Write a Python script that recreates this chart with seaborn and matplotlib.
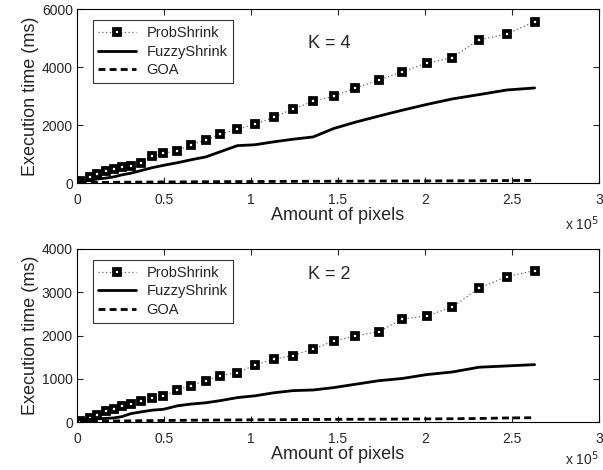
import matplotlib
matplotlib.use("Agg")
import matplotlib.pyplot as plt
import seaborn as sns
import pandas as pd
from matplotlib.ticker import FuncFormatter

# Amount of pixels per test image (same for both K settings)
pixels = [1600, 7300, 11700, 16500, 21000, 25700, 31000, 36800, 43300, 49700,
          57700, 65400, 74000, 82400, 92200, 102200, 113000, 124000, 135700, 147500,
          160000, 173500, 186800, 200900, 215600, 231000, 247000, 263000]

# K = 4
prob_k4 = [55, 195, 300, 400, 470, 540, 590, 700, 920, 1020,
           1120, 1320, 1480, 1680, 1860, 2030, 2270, 2550, 2820, 2990,
           3280, 3550, 3840, 4130, 4330, 4940, 5140, 5570]
fuzzy_k4 = [60, 100, 140, 170, 210, 280, 340, 430, 530, 610,
            700, 800, 900, 1080, 1290, 1320, 1420, 1510, 1590, 1880,
            2100, 2310, 2510, 2710, 2900, 3050, 3210, 3280]
goa_k4 = [10, 15, 20, 22, 25, 28, 30, 33, 35, 38, 40, 42, 45, 48,
          50, 52, 55, 58, 60, 62, 65, 68, 70, 72, 75, 78, 85, 90]

# K = 2
prob_k2 = [40, 110, 175, 250, 300, 376, 420, 490, 570, 607,
           745, 845, 960, 1075, 1145, 1320, 1455, 1540, 1690, 1875,
           1990, 2090, 2380, 2455, 2655, 3095, 3360, 3500]
fuzzy_k2 = [60, 70, 80, 90, 100, 130, 200, 240, 280, 300,
            380, 420, 450, 500, 570, 610, 680, 730, 745, 800,
            877, 960, 1010, 1100, 1160, 1270, 1300, 1330]
goa_k2 = [20, 22, 25, 28, 30, 33, 35, 38, 40, 42, 45, 48, 50, 52,
          55, 58, 60, 62, 65, 68, 70, 72, 75, 78, 82, 88, 100, 106]

panels = [
    {"title": "K = 4", "prob": prob_k4, "fuzzy": fuzzy_k4, "goa": goa_k4,
     "ymax": 6000, "yticks": [0, 2000, 4000, 6000], "ky": 0.805, "oy": -0.235},
    {"title": "K = 2", "prob": prob_k2, "fuzzy": fuzzy_k2, "goa": goa_k2,
     "ymax": 4000, "yticks": [0, 1000, 2000, 3000, 4000], "ky": 0.854, "oy": -0.21},
]

sns.set_style("ticks")
plt.rcParams['font.family'] = ['Liberation Sans', 'DejaVu Sans']

fig = plt.figure(figsize=(6.03, 4.70), dpi=100)
axes = [fig.add_axes([0.1277, 0.6106, 0.8657, 0.370]),
        fig.add_axes([0.1277, 0.1015, 0.8657, 0.369])]

for ax, p in zip(axes, panels):
    df = pd.DataFrame({"pixels": pixels, "prob": p["prob"],
                       "fuzzy": p["fuzzy"], "goa": p["goa"]})

    sns.lineplot(data=df, x="pixels", y="prob", ax=ax, color="0.4",
                 linestyle=(0, (1, 2)), linewidth=0.9, marker="s",
                 markersize=3.9, markeredgewidth=2.7, markerfacecolor="white",
                 markeredgecolor="black", label="ProbShrink")
    sns.lineplot(data=df, x="pixels", y="fuzzy", ax=ax, color="black",
                 linewidth=2.0, label="FuzzyShrink")
    sns.lineplot(data=df, x="pixels", y="goa", ax=ax, color="black",
                 linewidth=2.0, label="GOA")
    ax.lines[-1].set_linestyle((0, (2.5, 1.5)))

    ax.set_xlim(0, 300000)
    ax.set_ylim(0, p["ymax"])
    ax.set_xticks([0, 50000, 100000, 150000, 200000, 250000, 300000])
    ax.xaxis.set_major_formatter(FuncFormatter(lambda v, pos: f"{v / 1e5:g}"))
    ax.set_yticks(p["yticks"])
    ax.tick_params(direction="in", top=True, right=True, labelsize=10,
                   length=4, width=0.8)
    ax.tick_params(axis="x", pad=7)
    ax.tick_params(axis="y", pad=3)
    for s in ax.spines.values():
        s.set_linewidth(0.8)
        s.set_color("black")

    ax.set_xlabel("Amount of pixels", fontsize=13, labelpad=0)
    ax.set_ylabel("Execution time (ms)", fontsize=13, labelpad=2)
    ax.text(0.935, p["oy"], r"x 10$^5$", transform=ax.transAxes,
            fontsize=10, ha="left", va="center")
    ax.text(0.443, p["ky"], p["title"], transform=ax.transAxes,
            fontsize=13, ha="left", va="center")

    leg = ax.legend(loc="upper left", bbox_to_anchor=(0.03, 0.935),
                    fontsize=10.5, frameon=True, fancybox=False,
                    handlelength=2.6, borderpad=0.4, labelspacing=0.3,
                    handletextpad=0.7, borderaxespad=0)
    leg.get_frame().set_edgecolor("black")
    leg.get_frame().set_linewidth(0.8)

fig.savefig("out.png", dpi=100)
